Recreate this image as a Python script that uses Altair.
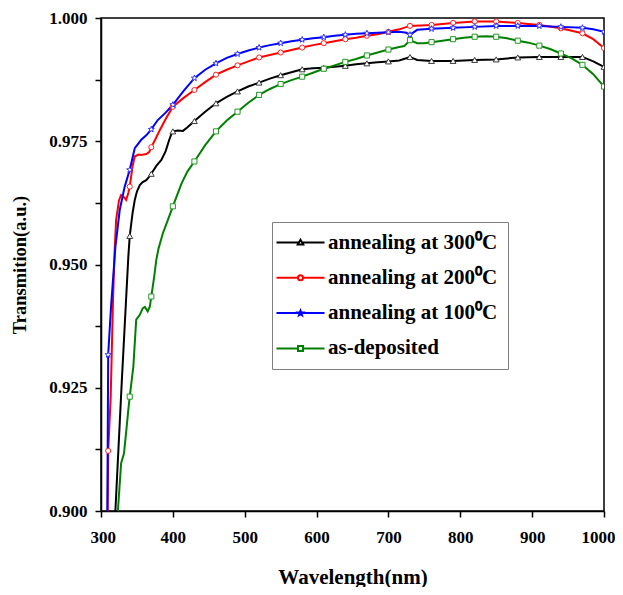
import altair as alt
import pandas as pd

# ---- series names / colours ----
S300 = "annealing at 300\u2070C"
S200 = "annealing at 200\u2070C"
S100 = "annealing at 100\u2070C"
S0 = "as-deposited"
series_names = [S300, S200, S100, S0]
series_colors = ["#000000", "#ff0000", "#0000ff", "#008000"]

# ---- data ----
wl_300 = [320, 329, 338, 340, 344, 347, 350, 354, 358, 363, 366, 370, 377, 384, 390, 395, 398, 400,
          407, 414, 420, 430, 445, 460, 475, 490, 505, 520, 535, 550, 565, 580, 595, 610, 625, 640,
          655, 670, 685, 700, 715, 730, 740, 760, 790, 820, 850, 880, 910, 940, 970, 985, 1000]
t_300 = [0.9000, 0.9265, 0.9515, 0.9558, 0.9605, 0.9631, 0.9648, 0.9661, 0.9667, 0.9671, 0.9676,
         0.9684, 0.9700, 0.9712, 0.9730, 0.9753, 0.9765, 0.9770, 0.9772, 0.9771, 0.9778, 0.9791,
         0.9810, 0.9827, 0.9840, 0.9851, 0.9861, 0.9869, 0.9877, 0.9884, 0.9890, 0.9896, 0.9898,
         0.9899, 0.9901, 0.9903, 0.9906, 0.9908, 0.9910, 0.9912, 0.9914, 0.9921, 0.9915, 0.9913,
         0.9913, 0.9915, 0.9916, 0.9920, 0.9921, 0.9921, 0.9921, 0.9912, 0.9901]

wl_200 = [309.3, 310, 313.5, 316.7, 319, 321, 325, 328, 331, 335, 338, 340, 344, 347, 352, 356, 363,
          367, 370, 376, 382, 390, 400, 415, 430, 445, 460, 475, 490, 505, 520, 535, 550, 565, 580,
          595, 610, 625, 640, 655, 670, 685, 700, 715, 730, 745, 760, 790, 820, 850, 880, 910, 940,
          970, 985, 1000]
t_200 = [0.9000, 0.9122, 0.9232, 0.9427, 0.9529, 0.9590, 0.9630, 0.9641, 0.9638, 0.9631, 0.9645,
         0.9658, 0.9700, 0.9719, 0.9723, 0.9722, 0.9724, 0.9728, 0.9738, 0.9755, 0.9773, 0.9795,
         0.9820, 0.9838, 0.9854, 0.9870, 0.9885, 0.9895, 0.9904, 0.9912, 0.9920, 0.9925, 0.9930,
         0.9935, 0.9940, 0.9945, 0.9949, 0.9953, 0.9957, 0.9960, 0.9964, 0.9967, 0.9972, 0.9977,
         0.9984, 0.9985, 0.9986, 0.9990, 0.9993, 0.9993, 0.9990, 0.9986, 0.9979, 0.9969, 0.9957,
         0.9939]

wl_100 = [308.8, 310, 314, 317, 320, 326, 333, 340, 347, 356, 363, 370, 379, 390, 400, 415, 430,
          445, 460, 475, 490, 505, 520, 535, 550, 565, 580, 595, 610, 625, 640, 655, 670, 685, 700,
          715, 725, 730, 740, 760, 775, 790, 820, 850, 880, 910, 940, 970, 985, 1000]
t_100 = [0.9000, 0.9317, 0.9415, 0.9475, 0.9535, 0.9610, 0.9658, 0.9692, 0.9736, 0.9753, 0.9762,
         0.9774, 0.9793, 0.9808, 0.9824, 0.9852, 0.9878, 0.9895, 0.9908, 0.9919, 0.9927, 0.9934,
         0.9940, 0.9945, 0.9949, 0.9953, 0.9956, 0.9959, 0.9961, 0.9964, 0.9966, 0.9968, 0.9969,
         0.9970, 0.9971, 0.9972, 0.9970, 0.9966, 0.9976, 0.9978, 0.9979, 0.9980, 0.9982, 0.9984,
         0.9984, 0.9984, 0.9982, 0.9980, 0.9977, 0.9972]

wl_0 = [323.5, 328, 332, 335, 338, 340, 345, 349, 354, 358, 361, 365, 368, 370, 374, 377, 380, 386,
        393, 400, 412, 420, 430, 445, 460, 475, 490, 505, 520, 535, 550, 565, 580, 595, 610, 625,
        640, 655, 670, 685, 700, 715, 722, 730, 740, 750, 760, 775, 790, 805, 820, 835, 850, 865,
        880, 895, 910, 925, 940, 955, 970, 985, 1000]
t_0 = [0.9000, 0.9097, 0.9117, 0.9160, 0.9205, 0.9232, 0.9293, 0.9388, 0.9398, 0.9411, 0.9414,
       0.9405, 0.9415, 0.9435, 0.9475, 0.9510, 0.9532, 0.9563, 0.9590, 0.9618, 0.9664, 0.9688,
       0.9709, 0.9742, 0.9770, 0.9792, 0.9810, 0.9828, 0.9844, 0.9856, 0.9866, 0.9874, 0.9881,
       0.9889, 0.9897, 0.9904, 0.9911, 0.9917, 0.9924, 0.9930, 0.9936, 0.9941, 0.9943, 0.9955,
       0.9949, 0.9949, 0.9951, 0.9954, 0.9957, 0.9960, 0.9962, 0.9963, 0.9962, 0.9959, 0.9954,
       0.9950, 0.9944, 0.9937, 0.9928, 0.9918, 0.9905, 0.9886, 0.9861]

marker_wl = [310, 340, 370, 400, 430, 460, 490, 520, 550, 580, 610, 640, 670, 700, 730, 760,
             790, 820, 850, 880, 910, 940, 970, 1000]

x_ticks = [300, 350, 400, 450, 500, 550, 600, 650, 700, 750, 800, 850, 900, 950, 1000]
y_ticks = [0.9, 0.9125, 0.925, 0.9375, 0.95, 0.9625, 0.975, 0.9875, 1.0]

# ---- marker shapes ----
STAR = ("M0,-1L0.247,-0.34L0.951,-0.309L0.399,0.13L0.588,0.809L0,0.42L-0.588,0.809"
        "L-0.399,0.13L-0.951,-0.309L-0.247,-0.34Z")
plot_shapes = ["triangle-up", "circle", STAR, "square"]
plot_sizes = [34, 26, 40, 26]
marker_strokes = ["#3a3a3a", "#ff2020", "#3030ff", "#229922"]

legend_paths = [
    "M-9.6,0H-0.65M0.65,0H9.6M0,-1.1L1.1,0.8L-1.1,0.8Z",
    "M-9.6,0H-1M1,0H9.6M-1,0A1,1,0,1,1,1,0A1,1,0,1,1,-1,0Z",
    "M-9.6,0H-0.56M0.56,0H9.6" + STAR,
    "M-9.6,0H-1M1,0H9.6M-1,-1H1V1H-1Z",
]

rows = []
for name, wls, ts in [(S300, wl_300, t_300), (S200, wl_200, t_200),
                      (S100, wl_100, t_100), (S0, wl_0, t_0)]:
    for w, t in zip(wls, ts):
        rows.append({"series": name, "wl": w, "t": t})
df = pd.DataFrame(rows)

FONT = "Liberation Serif"

x_enc = alt.X("wl:Q", scale=alt.Scale(domain=[300, 1000], nice=False, zero=False),
              axis=alt.Axis(values=x_ticks, title="Wavelength(nm)",
                            labelExpr="datum.value % 100 == 0 ? format(datum.value, 'd') : ''",
                            labelFlush=True, labelFlushOffset=11,
                            labelPadding=12, titlePadding=21, titleFontSize=21))
y_enc = alt.Y("t:Q", scale=alt.Scale(domain=[0.9, 1.0], nice=False, zero=False),
              axis=alt.Axis(values=y_ticks, title="Transmition(a.u.)",
                            labelExpr="round(datum.value*10000) % 250 == 0 ? format(datum.value, '.3f') : ''",
                            labelFlush=False,
                            labelPadding=8, titlePadding=19, titleFontSize=18.5))

color_enc = alt.Color("series:N", scale=alt.Scale(domain=series_names, range=series_colors),
                      title=None)

lines = alt.Chart(df).mark_line(strokeWidth=2, clip=True).encode(
    x=x_enc, y=y_enc, color=color_enc, order="wl:Q")

layers = [lines]
for i, name in enumerate(series_names):
    sub = df[(df["series"] == name) & (df["wl"].isin(marker_wl))]
    layers.append(
        alt.Chart(sub).mark_point(shape=plot_shapes[i], size=plot_sizes[i], filled=True,
                                  fill="white", stroke=marker_strokes[i], strokeWidth=1,
                                  opacity=1, clip=True).encode(x="wl:Q", y="t:Q")
    )

legend_layer = alt.Chart(df).transform_filter("false").mark_point(filled=False, opacity=1).encode(
    x="wl:Q", y="t:Q", color=color_enc,
    shape=alt.Shape("series:N", scale=alt.Scale(domain=series_names, range=legend_paths),
                    title=None))
layers.append(legend_layer)

chart = alt.layer(*layers).properties(
    width=503, height=493,
    autosize=alt.AutoSizeParams(type="none"),
    padding={"left": 93, "top": 10, "right": 11, "bottom": 76},
).configure_view(
    stroke="black", strokeWidth=1.5
).configure_axis(
    grid=False, domainColor="black", domainWidth=1.5, tickColor="black", tickWidth=1.5,
    tickSize=6, labelFont=FONT, labelFontWeight="bold", labelFontSize=17, labelColor="black",
    titleFont=FONT, titleFontWeight="bold", titleColor="black",
    labelOverlap=False
).configure_legend(
    orient="none", legendX=171, legendY=204, padding=10, fillColor="white",
    strokeColor="#808080", labelFont=FONT, labelFontWeight="bold", labelFontSize=21,
    labelColor="black", symbolSize=25, symbolStrokeWidth=2, symbolFillColor="white",
    symbolOffset=8, labelOffset=17, rowPadding=13.3, labelLimit=400
)

chart.save("out.html", embed_options={"renderer": "svg", "actions": False})
